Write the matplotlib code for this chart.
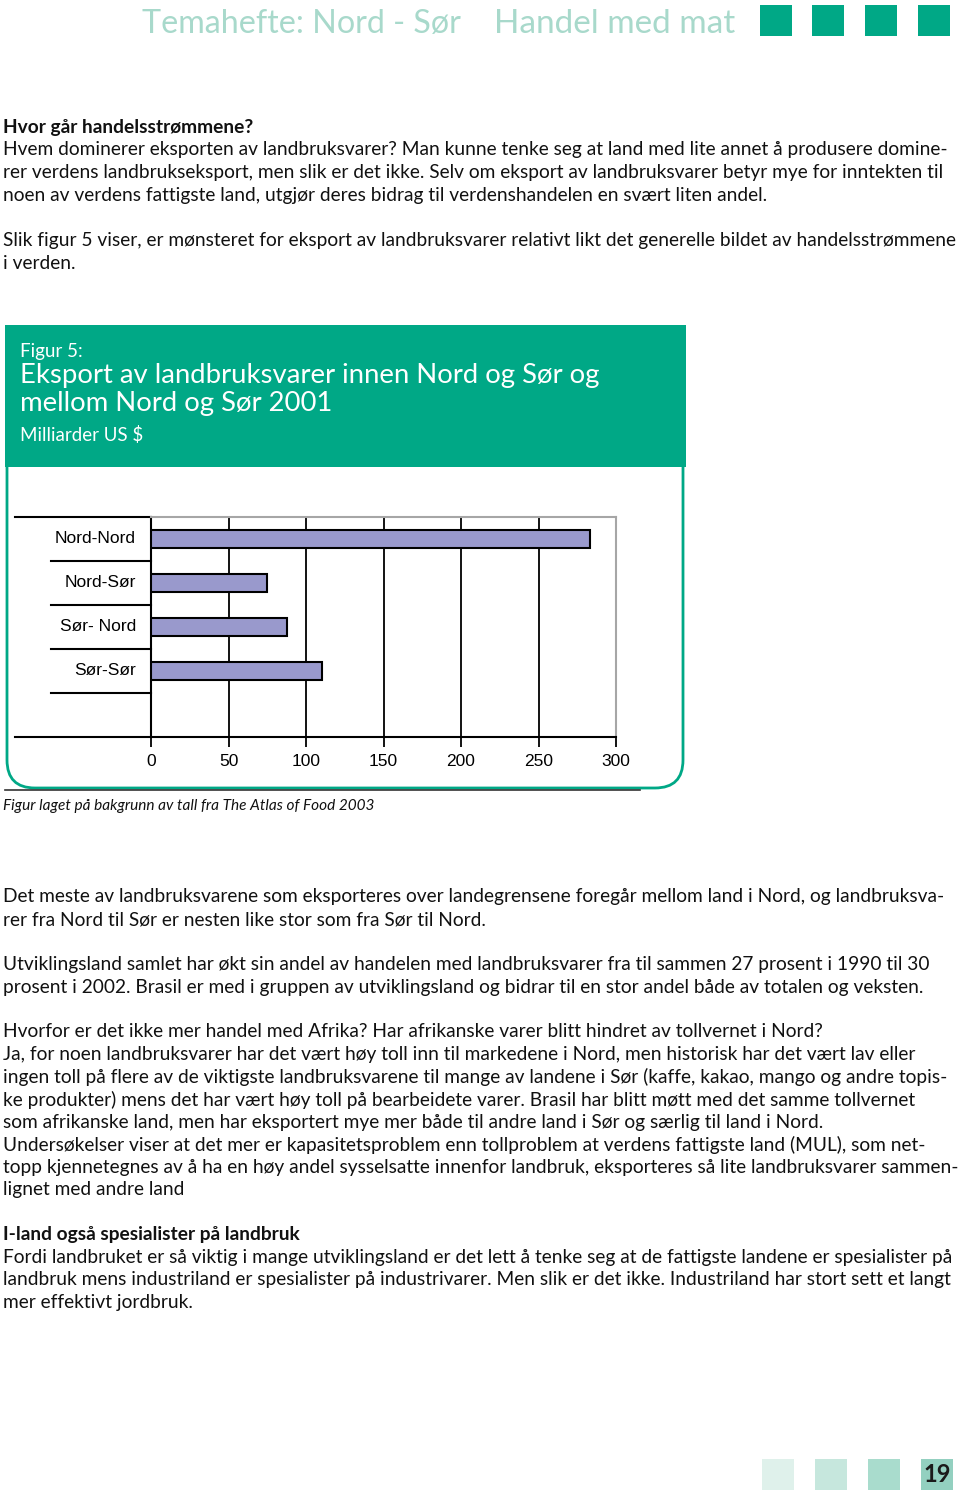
import matplotlib
matplotlib.use("Agg")
import matplotlib.pyplot as plt
from matplotlib.patches import Rectangle, FancyBboxPatch
from matplotlib.transforms import blended_transform_factory, offset_copy

W, H = 960, 1494
GREEN = "#00a886"
BAR = "#9999cc"
BODY_FONT = ["Lato", "DejaVu Sans"]
CHART_FONT = ["Liberation Sans", "DejaVu Sans"]

# chart data
categories = ["Nord-Nord", "Nord-Sør", "Sør- Nord", "Sør-Sør"]
values = [283, 75, 88, 110]
xticks = [0, 50, 100, 150, 200, 250, 300]

header_left = "Temahefte: Nord - Sør"
header_right = "Handel med mat"
box_small = "Figur 5:"
box_title = ["Eksport av landbruksvarer innen Nord og Sør og",
             "mellom Nord og Sør 2001"]
box_unit = "Milliarder US $"
caption = "Figur laget på bakgrunn av tall fra The Atlas of Food 2003"

# (y centre in px, text, bold)
body = [
    (126, "Hvor går handelsstrømmene?", True),
    (148, "Hvem dominerer eksporten av landbruksvarer? Man kunne tenke seg at land med lite annet å produsere domine-", False),
    (171, "rer verdens landbrukseksport, men slik er det ikke. Selv om eksport av landbruksvarer betyr mye for inntekten til", False),
    (194, "noen av verdens fattigste land, utgjør deres bidrag til verdenshandelen en svært liten andel.", False),
    (239, "Slik figur 5 viser, er mønsteret for eksport av landbruksvarer relativt likt det generelle bildet av handelsstrømmene", False),
    (262, "i verden.", False),
    (895, "Det meste av landbruksvarene som eksporteres over landegrensene foregår mellom land i Nord, og landbruksva-", False),
    (918, "rer fra Nord til Sør er nesten like stor som fra Sør til Nord.", False),
    (963, "Utviklingsland samlet har økt sin andel av handelen med landbruksvarer fra til sammen 27 prosent i 1990 til 30", False),
    (986, "prosent i 2002. Brasil er med i gruppen av utviklingsland og bidrar til en stor andel både av totalen og veksten.", False),
    (1030, "Hvorfor er det ikke mer handel med Afrika? Har afrikanske varer blitt hindret av tollvernet i Nord?", False),
    (1053, "Ja, for noen landbruksvarer har det vært høy toll inn til markedene i Nord, men historisk har det vært lav eller", False),
    (1075, "ingen toll på flere av de viktigste landbruksvarene til mange av landene i Sør (kaffe, kakao, mango og andre topis-", False),
    (1098, "ke produkter) mens det har vært høy toll på bearbeidete varer. Brasil har blitt møtt med det samme tollvernet", False),
    (1121, "som afrikanske land, men har eksportert mye mer både til andre land i Sør og særlig til land i Nord.", False),
    (1143, "Undersøkelser viser at det mer er kapasitetsproblem enn tollproblem at verdens fattigste land (MUL), som net-", False),
    (1166, "topp kjennetegnes av å ha en høy andel sysselsatte innenfor landbruk, eksporteres så lite landbruksvarer sammen-", False),
    (1188, "lignet med andre land", False),
    (1233, "I-land også spesialister på landbruk", True),
    (1256, "Fordi landbruket er så viktig i mange utviklingsland er det lett å tenke seg at de fattigste landene er spesialister på", False),
    (1278, "landbruk mens industriland er spesialister på industrivarer. Men slik er det ikke. Industriland har stort sett et langt", False),
    (1301, "mer effektivt jordbruk.", False),
]

fig = plt.figure(figsize=(W / 100, H / 100), dpi=100)
bg = fig.add_axes([0, 0, 1, 1])
bg.set_xlim(0, W); bg.set_ylim(H, 0); bg.axis("off")
renderer = fig.canvas.get_renderer()


def fit(t, width):
    bb = t.get_window_extent(renderer)
    t.set_fontsize(t.get_fontsize() * width / bb.width)
    return t.get_fontsize()


# header
h1 = bg.text(142, 24, header_left, fontsize=22, color="#a8d9cb", family=BODY_FONT, va="center")
h2 = bg.text(494, 24, header_right, fontsize=22, color="#a8d9cb", family=BODY_FONT, va="center")
fit(h1, 318)
fit(h2, 241)
for x0 in [760, 812, 865, 918]:
    bg.add_patch(Rectangle((x0, 5), 32, 31, color=GREEN, lw=0))

# body text: one size, set so the widest line ends near the right margin
texts = []
for y, s, b in body:
    texts.append(bg.text(3, y + 1.5, s, fontsize=12, family=BODY_FONT, va="center",
                         fontweight="bold" if b else "normal", color="#111111"))
widest = max(t.get_window_extent(renderer).width for t in texts)
size = 12 * 952 / widest
for t in texts:
    t.set_fontsize(size)

# figure frame
bg.add_patch(FancyBboxPatch((7, 430), 676, 358, boxstyle="round,pad=0,rounding_size=28",
                            fc="white", ec=GREEN, lw=2))
bg.add_patch(Rectangle((5, 325), 681, 142, color=GREEN, lw=0))
bg.plot([5, 640], [790, 790], color="#333333", lw=1.2)
bg.text(20, 351, box_small, color="white", fontsize=13.5, family=BODY_FONT, va="center")
tt = bg.text(20, 376, box_title[0], color="white", fontsize=20, family=BODY_FONT, va="center")
tsize = fit(tt, 580)
bg.text(20, 404, box_title[1], color="white", fontsize=tsize, family=BODY_FONT, va="center")
bg.text(20, 435, box_unit, color="white", fontsize=13.5, family=BODY_FONT, va="center")
cap = bg.text(3, 806, caption, fontsize=10, family=BODY_FONT, style="italic",
              va="center", color="#111111")
fit(cap, 373)

# footer squares
for x0, c in zip([762, 815, 868, 921], ["#dff1eb", "#c6e7dd", "#a9dccd", "#93d0c0"]):
    bg.add_patch(Rectangle((x0, 1459), 32, 31, color=c, lw=0))
bg.text(937, 1474, "19", fontsize=17, fontweight="bold", family=BODY_FONT,
        ha="center", va="center", color="#1a1a1a")

# chart
L, R, T, B = 151, 616, 517, 737
ax = fig.add_axes([L / W, 1 - B / H, (R - L) / W, (B - T) / H])
ax.set_facecolor("white")
ypos = list(range(len(categories)))
ax.barh(ypos, values, height=0.39, color=BAR, edgecolor="black", linewidth=1.5, zorder=3)
ax.set_xlim(0, 300)
ax.set_ylim(len(categories) + 0.5, -0.5)
ax.set_xticks(xticks)
ax.set_yticks(ypos, [])
ax.xaxis.grid(True, color="black", lw=1.3)
ax.set_axisbelow(True)
for sp in ["top", "right"]:
    ax.spines[sp].set_color("#a6a6a6")
    ax.spines[sp].set_linewidth(1.5)
for sp in ["left", "bottom"]:
    ax.spines[sp].set_linewidth(1.5)
ax.tick_params(axis="x", direction="out", length=7, width=1.3, pad=5)
ax.tick_params(axis="y", length=0)
for lab in ax.get_xticklabels():
    lab.set_family(CHART_FONT)
    lab.set_fontsize(12.5)

tr = blended_transform_factory(ax.transAxes, ax.transData)
lab_tr = offset_copy(tr, fig=fig, x=-15, y=0, units="dots")
for k, c in enumerate(categories):
    ax.text(0, k, c, transform=lab_tr, ha="right", va="center", family=CHART_FONT,
            fontsize=12.5, clip_on=False)

far = (15 - L) / (R - L)
near = (51 - L) / (R - L)
ax.plot([far, 0], [-0.5, -0.5], color="black", lw=1.5, transform=tr, clip_on=False)
ax.plot([far, 0], [len(categories) + 0.5] * 2, color="black", lw=1.5, transform=tr, clip_on=False)
for k in range(len(categories)):
    ax.plot([near, 0], [k + 0.5, k + 0.5], color="black", lw=1.5, transform=tr, clip_on=False)

fig.savefig("out.png", dpi=100)
